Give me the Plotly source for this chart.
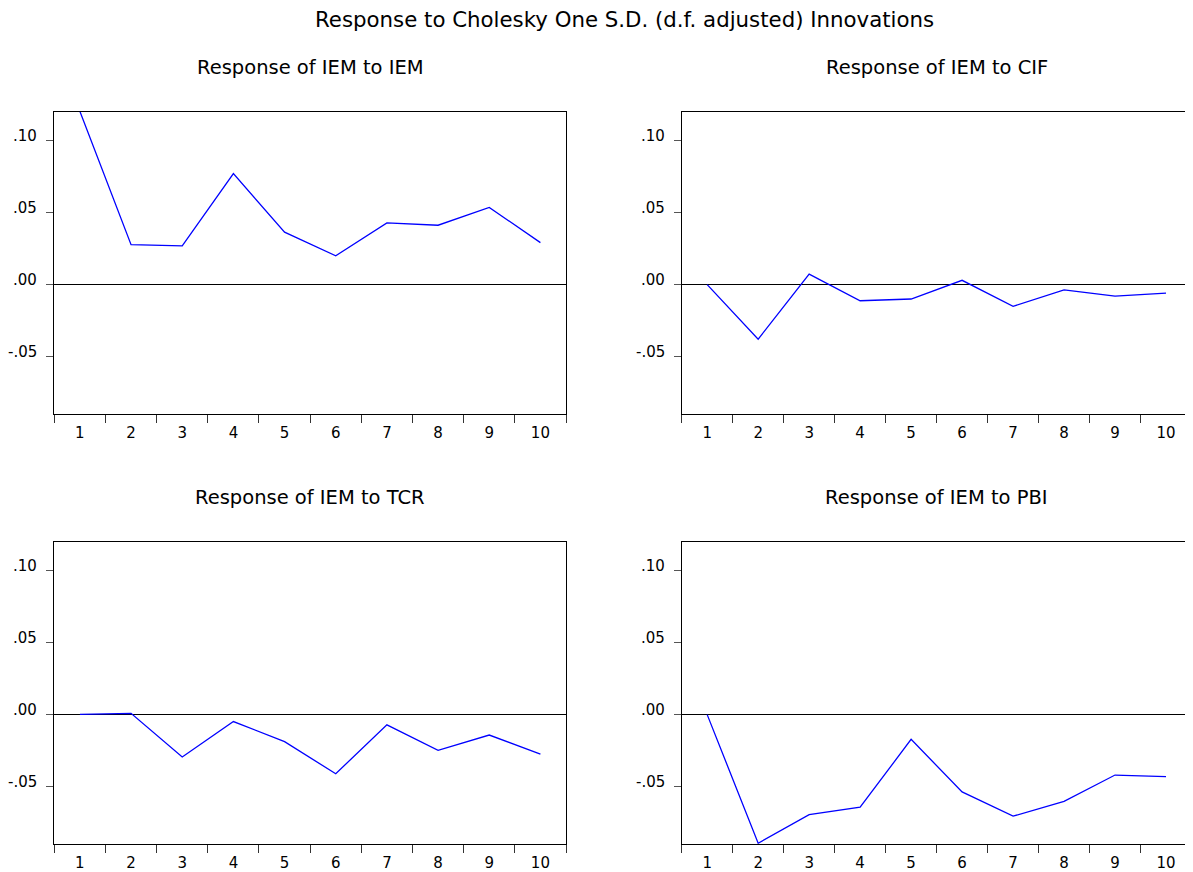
import plotly.graph_objects as go

periods = [str(i) for i in range(1, 11)]

iem_to_iem = [0.1205, 0.0278, 0.0269, 0.0772, 0.0365, 0.0201, 0.0429, 0.0413, 0.0537, 0.0292]
iem_to_cif = [0.0000, -0.0379, 0.0073, -0.0112, -0.0100, 0.0030, -0.0151, -0.0037, -0.0080, -0.0059]
iem_to_tcr = [0.0002, 0.0009, -0.0294, -0.0048, -0.0188, -0.0411, -0.0071, -0.0248, -0.0142, -0.0275]
iem_to_pbi = [0.0000, -0.0894, -0.0695, -0.0644, -0.0172, -0.0537, -0.0706, -0.0603, -0.0420, -0.0431]

panel_titles = ["Response of IEM to IEM", "Response of IEM to CIF",
                "Response of IEM to TCR", "Response of IEM to PBI"]
main_title = "Response to Cholesky One S.D. (d.f. adjusted) Innovations"

y_tickvals = [-0.05, 0.0, 0.05, 0.10]
y_ticktext = ["-.05", ".00", ".05", ".10"]
y_range = [-0.09, 0.12]

# the page body has an 8px default margin; the figure is sized to fill the window after it
OFF = 8
W, H = 1193 - OFF, 872 - OFF
FONT = "DejaVu Sans, Liberation Sans, Arial, sans-serif"

# panel boxes in window pixels: (left, right, top, bottom)
boxes = [
    (54.3, 566.0, 112.3, 415.0),
    (681.7, 1191.5, 112.3, 415.0),
    (54.3, 566.0, 543.3, 846.0),
    (681.7, 1191.5, 543.3, 846.0),
]
title_y_px = [68, 68, 498.5, 498.5]

series = [iem_to_iem, iem_to_cif, iem_to_tcr, iem_to_pbi]


def px_x(v):
    return (v - OFF) / W


def px_y(v):
    return 1 - (v - OFF) / H


fig = go.Figure()
annotations = []
for i, (vals, box) in enumerate(zip(series, boxes)):
    n = i + 1
    xa = "x" if n == 1 else f"x{n}"
    ya = "y" if n == 1 else f"y{n}"
    fig.add_trace(go.Scatter(x=periods, y=vals, mode="lines",
                             line=dict(color="#0000FF", width=1.3),
                             xaxis=xa, yaxis=ya, showlegend=False, cliponaxis=True))
    l, r, t, b = box
    xdom = [px_x(l), px_x(r)]
    ydom = [px_y(b), px_y(t)]
    xkey = "xaxis" if n == 1 else f"xaxis{n}"
    ykey = "yaxis" if n == 1 else f"yaxis{n}"
    fig.update_layout(**{
        xkey: dict(domain=xdom, anchor=ya, type="category", tickson="boundaries",
                   ticks="outside", ticklen=8, tickcolor="#333333", tickwidth=1,
                   showline=True, linecolor="black", linewidth=1, mirror=True,
                   showgrid=False, zeroline=False, range=[-0.5, 9.5], fixedrange=True,
                   ticklabelstandoff=5,
                   tickfont=dict(family=FONT, size=15, color="black")),
        ykey: dict(domain=ydom, anchor=xa, range=y_range,
                   tickvals=y_tickvals, showticklabels=False,
                   ticks="outside", ticklen=7, tickcolor="#555555", tickwidth=1,
                   showline=True, linecolor="black", linewidth=1, mirror=True,
                   showgrid=False, zeroline=True, zerolinecolor="black", zerolinewidth=1),
    })
    # y tick labels sit just above their tick, as in the reference
    for tv, tt in zip(y_tickvals, y_ticktext):
        annotations.append(dict(text=tt, x=px_x(l - 15), y=tv, xref="paper", yref=ya,
                                xanchor="right", yanchor="middle", yshift=5,
                                showarrow=False, font=dict(family=FONT, size=15, color="black")))
    annotations.append(dict(text=panel_titles[i], x=px_x((l + r) / 2), y=px_y(title_y_px[i]),
                            xref="paper", yref="paper", xanchor="center", yanchor="middle",
                            showarrow=False, font=dict(family=FONT, size=19.5, color="black")))

annotations.append(dict(text=main_title, x=px_x(624), y=px_y(20), xref="paper", yref="paper",
                        xanchor="center", yanchor="middle", showarrow=False,
                        font=dict(family=FONT, size=21.3, color="black")))

fig.update_layout(width=W, height=H, margin=dict(l=0, r=0, t=0, b=0),
                  paper_bgcolor="white", plot_bgcolor="white",
                  annotations=annotations)

fig.write_html("out.html")
